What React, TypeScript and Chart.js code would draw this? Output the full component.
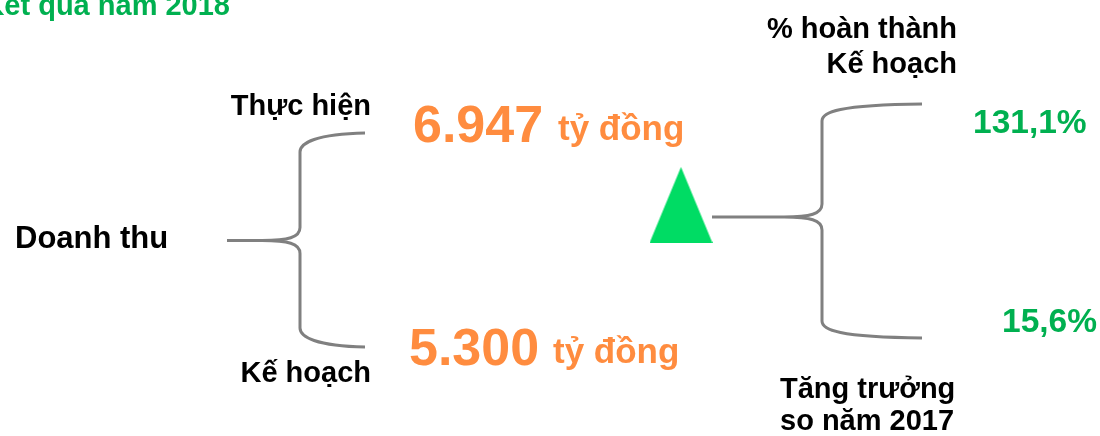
import React, { useEffect, useRef } from 'react';
import { Chart, registerables } from 'chart.js';

Chart.register(...registerables);

// ---- data ----
const title = 'Kết quả năm 2018';
const mainLabel = 'Doanh thu';
const revenueLabels = ['Thực hiện', 'Kế hoạch'];
const revenueValues = [6947, 5300];
const revenueUnit = 'tỷ đồng';
const ratioLabels = [
  ['% hoàn thành', 'Kế hoạch'],
  ['Tăng trưởng', 'so năm 2017'],
];
const ratioValues = [131.1, 15.6];

// ---- layout (in the chart's own 0..1100 x 0..436 value frame) ----
const FRAME = { w: 1100, h: 436 };
const FONT = "'Liberation Sans', Arial, sans-serif";
const COLORS = {
  title: '#00B050',
  label: '#000000',
  value: '#FF8C3F',
  ratio: '#00B050',
  brace: '#808080',
  triangle: '#00DC64',
};
const LAYOUT = {
  title: { x: 230, y: 15, size: 29, align: 'right' as CanvasTextAlign },
  main: { x: 15, y: 248, size: 31 },
  revLabel: [{ x: 371, y: 115 }, { x: 371, y: 382 }],
  revLabelSize: 29,
  revValue: [{ x: 413, y: 142 }, { x: 409, y: 365 }],
  revValueSize: 52,
  revUnit: [{ x: 558, y: 140 }, { x: 553, y: 363 }],
  revUnitSize: 35,
  ratioLabel: [
    { x: 957, ys: [38, 73], align: 'right' as CanvasTextAlign },
    { x: 780, ys: [398, 430], align: 'left' as CanvasTextAlign },
  ],
  ratioLabelSize: 29,
  ratioValue: [{ x: 973, y: 133 }, { x: 1002, y: 332 }],
  ratioValueSize: 33.5,
  triangle: { x: 681, y: 205, w: 63, h: 76 },
  braces: [
    { stemX: 227, tipX: 300, tipY: 240.5, topY: 143, bottomY: 337, endX: 365, endTopY: 133, endBottomY: 347 },
    { stemX: 712, tipX: 822, tipY: 217, topY: 112, bottomY: 330, endX: 922, endTopY: 104, endBottomY: 338 },
  ],
};

const fmtInt = (n: number) => String(n).replace(/\B(?=(\d{3})+(?!\d))/g, '.');
const fmtPct = (v: number) => v.toFixed(1).replace('.', ',') + '%';

function makeTriangle(w: number, h: number, color: string) {
  const c = document.createElement('canvas');
  c.width = w;
  c.height = h;
  const g = c.getContext('2d')!;
  g.fillStyle = color;
  g.beginPath();
  g.moveTo(w / 2, 0);
  g.lineTo(w, h);
  g.lineTo(0, h);
  g.closePath();
  g.fill();
  return c;
}

const infographicPlugin = {
  id: 'infographic',
  afterDatasetsDraw(chart: any) {
    const ctx: CanvasRenderingContext2D = chart.ctx;
    const xs = chart.scales.x;
    const ys = chart.scales.y;
    const px = (v: number) => xs.getPixelForValue(v);
    const py = (v: number) => ys.getPixelForValue(v);
    ctx.save();

    // braces
    ctx.strokeStyle = COLORS.brace;
    ctx.lineWidth = 3;
    ctx.lineCap = 'butt';
    LAYOUT.braces.forEach((b) => {
      const k = b.tipX - 38;
      ctx.beginPath();
      ctx.moveTo(px(b.stemX), py(b.tipY));
      ctx.lineTo(px(k), py(b.tipY));
      ctx.bezierCurveTo(px(b.tipX - 12), py(b.tipY), px(b.tipX), py(b.tipY - 3), px(b.tipX), py(b.tipY - 13));
      ctx.lineTo(px(b.tipX), py(b.topY + 9));
      ctx.bezierCurveTo(px(b.tipX), py(b.topY), px(b.tipX + 16), py(b.endTopY + 1), px(b.endX), py(b.endTopY));
      ctx.moveTo(px(k), py(b.tipY));
      ctx.bezierCurveTo(px(b.tipX - 12), py(b.tipY), px(b.tipX), py(b.tipY + 3), px(b.tipX), py(b.tipY + 13));
      ctx.lineTo(px(b.tipX), py(b.bottomY - 9));
      ctx.bezierCurveTo(px(b.tipX), py(b.bottomY), px(b.tipX + 16), py(b.endBottomY - 1), px(b.endX), py(b.endBottomY));
      ctx.stroke();
    });

    ctx.textBaseline = 'alphabetic';
    const text = (s: string, x: number, y: number, size: number, color: string, align: CanvasTextAlign = 'left') => {
      ctx.font = `bold ${size}px ${FONT}`;
      ctx.fillStyle = color;
      ctx.textAlign = align;
      ctx.fillText(s, px(x), py(y));
    };

    text(title, LAYOUT.title.x, LAYOUT.title.y, LAYOUT.title.size, COLORS.title, LAYOUT.title.align);
    text(mainLabel, LAYOUT.main.x, LAYOUT.main.y, LAYOUT.main.size, COLORS.label);

    revenueLabels.forEach((l, i) => {
      text(l, LAYOUT.revLabel[i].x, LAYOUT.revLabel[i].y, LAYOUT.revLabelSize, COLORS.label, 'right');
      text(fmtInt(revenueValues[i]), LAYOUT.revValue[i].x, LAYOUT.revValue[i].y, LAYOUT.revValueSize, COLORS.value);
      text(revenueUnit, LAYOUT.revUnit[i].x, LAYOUT.revUnit[i].y, LAYOUT.revUnitSize, COLORS.value);
    });

    ratioLabels.forEach((lines, i) => {
      const p = LAYOUT.ratioLabel[i];
      lines.forEach((ln, j) => text(ln, p.x, p.ys[j], LAYOUT.ratioLabelSize, COLORS.label, p.align));
      text(fmtPct(ratioValues[i]), LAYOUT.ratioValue[i].x, LAYOUT.ratioValue[i].y, LAYOUT.ratioValueSize, COLORS.ratio);
    });

    ctx.restore();
  },
};

export default function App() {
  const ref = useRef<HTMLCanvasElement | null>(null);

  useEffect(() => {
    if (!ref.current) return;
    const t = LAYOUT.triangle;
    const tri = makeTriangle(t.w, t.h, COLORS.triangle);
    const chart = new Chart(ref.current, {
      type: 'scatter',
      data: {
        datasets: [
          {
            label: 'Tăng',
            data: [{ x: t.x, y: t.y }],
            pointStyle: tri as any,
            pointRadius: 10,
            backgroundColor: COLORS.triangle,
          },
        ],
      },
      options: {
        animation: false,
        responsive: false,
        events: [],
        layout: { padding: 0, autoPadding: false },
        scales: {
          x: { type: 'linear', min: 0, max: FRAME.w, display: false },
          y: { type: 'linear', min: 0, max: FRAME.h, reverse: true, display: false },
        },
        plugins: {
          legend: { display: false },
          tooltip: { enabled: false },
        },
      },
      plugins: [infographicPlugin],
    });
    return () => chart.destroy();
  }, []);

  return (
    <div style={{ position: 'absolute', left: 0, top: 0, width: FRAME.w, height: FRAME.h, background: '#fff' }}>
      <canvas ref={ref} width={FRAME.w} height={FRAME.h} style={{ display: 'block' }} />
    </div>
  );
}
